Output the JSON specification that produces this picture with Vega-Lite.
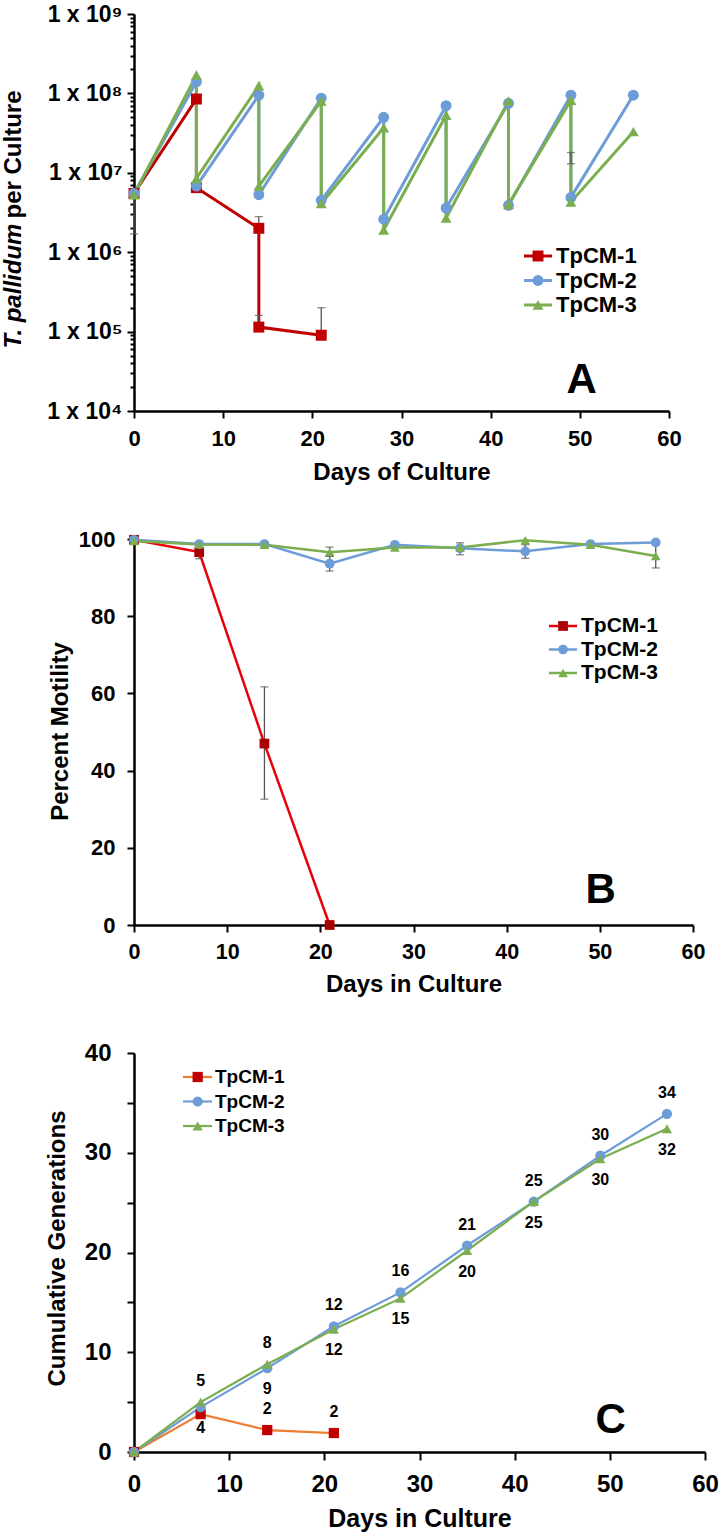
{
  "$schema": "https://vega.github.io/schema/vega-lite/v6.json",
  "padding": {"left": 1, "top": 3, "right": 5, "bottom": 5},
  "bounds": "flush",
  "spacing": 128,
  "config": {
    "view": {"stroke": null},
    "font": "Liberation Sans",
    "axis": {"domainColor": "#000", "domainWidth": 2.5, "tickColor": "#000", "tickWidth": 2, "labelColor": "#000", "labelFont": "Liberation Sans", "labelFontWeight": "bold", "titleColor": "#000", "titleFont": "Liberation Sans", "titleFontWeight": "bold", "grid": false, "labelFlush": false, "labelOverlap": false},
    "text": {"font": "Liberation Sans", "fontWeight": "bold", "color": "#000"}
  },
  "resolve": {"scale": {"stroke": "independent", "fill": "independent", "shape": "independent"}},
  "datasets": {
    "legend": [
      {"series": "TpCM-1"},
      {"series": "TpCM-2"},
      {"series": "TpCM-3"}
    ],
    "growthA": [
      {"series": "TpCM-1", "day": 0, "count": 5500000, "o": 0},
      {"series": "TpCM-1", "day": 7, "count": 85000000, "o": 1},
      {"series": "TpCM-1", "day": 7, "count": 6500000, "o": 2},
      {"series": "TpCM-1", "day": 14, "count": 2000000, "o": 3},
      {"series": "TpCM-1", "day": 14, "count": 114000, "o": 4},
      {"series": "TpCM-1", "day": 21, "count": 90000, "o": 5},
      {"series": "TpCM-2", "day": 0, "count": 5500000, "o": 0},
      {"series": "TpCM-2", "day": 7, "count": 140000000, "o": 1},
      {"series": "TpCM-2", "day": 7, "count": 6800000, "o": 2},
      {"series": "TpCM-2", "day": 14, "count": 95000000, "o": 3},
      {"series": "TpCM-2", "day": 14, "count": 5300000, "o": 4},
      {"series": "TpCM-2", "day": 21, "count": 87000000, "o": 5},
      {"series": "TpCM-2", "day": 21, "count": 4500000, "o": 6},
      {"series": "TpCM-2", "day": 28, "count": 50000000, "o": 7},
      {"series": "TpCM-2", "day": 28, "count": 2600000, "o": 8},
      {"series": "TpCM-2", "day": 35, "count": 70000000, "o": 9},
      {"series": "TpCM-2", "day": 35, "count": 3600000, "o": 10},
      {"series": "TpCM-2", "day": 42, "count": 75000000, "o": 11},
      {"series": "TpCM-2", "day": 42, "count": 3900000, "o": 12},
      {"series": "TpCM-2", "day": 49, "count": 95000000, "o": 13},
      {"series": "TpCM-2", "day": 49, "count": 4900000, "o": 14},
      {"series": "TpCM-2", "day": 56, "count": 95000000, "o": 15},
      {"series": "TpCM-3", "day": 0, "count": 5300000, "o": 0},
      {"series": "TpCM-3", "day": 7, "count": 170000000, "o": 1},
      {"series": "TpCM-3", "day": 7, "count": 8500000, "o": 2},
      {"series": "TpCM-3", "day": 14, "count": 125000000, "o": 3},
      {"series": "TpCM-3", "day": 14, "count": 6800000, "o": 4},
      {"series": "TpCM-3", "day": 21, "count": 80000000, "o": 5},
      {"series": "TpCM-3", "day": 21, "count": 4100000, "o": 6},
      {"series": "TpCM-3", "day": 28, "count": 37000000, "o": 7},
      {"series": "TpCM-3", "day": 28, "count": 1900000, "o": 8},
      {"series": "TpCM-3", "day": 35, "count": 53000000, "o": 9},
      {"series": "TpCM-3", "day": 35, "count": 2700000, "o": 10},
      {"series": "TpCM-3", "day": 42, "count": 80000000, "o": 11},
      {"series": "TpCM-3", "day": 42, "count": 4000000, "o": 12},
      {"series": "TpCM-3", "day": 49, "count": 82000000, "o": 13},
      {"series": "TpCM-3", "day": 49, "count": 4300000, "o": 14},
      {"series": "TpCM-3", "day": 56, "count": 33000000, "o": 15}
    ],
    "errA": [
      {"day": 0, "lo": 1700000, "hi": 5500000},
      {"day": 14, "lo": 2000000, "hi": 2800000},
      {"day": 14, "lo": 114000, "hi": 160000},
      {"day": 21, "lo": 90000, "hi": 200000},
      {"day": 49, "lo": 13000000, "hi": 18000000}
    ],
    "motB": [
      {"series": "TpCM-1", "day": 0, "pct": 99.8},
      {"series": "TpCM-1", "day": 7, "pct": 96.6},
      {"series": "TpCM-1", "day": 14, "pct": 47},
      {"series": "TpCM-1", "day": 21, "pct": 0},
      {"series": "TpCM-2", "day": 0, "pct": 99.8},
      {"series": "TpCM-2", "day": 7, "pct": 98.7},
      {"series": "TpCM-2", "day": 14, "pct": 98.7},
      {"series": "TpCM-2", "day": 21, "pct": 93.6},
      {"series": "TpCM-2", "day": 28, "pct": 98.5},
      {"series": "TpCM-2", "day": 35, "pct": 97.6},
      {"series": "TpCM-2", "day": 42, "pct": 96.8},
      {"series": "TpCM-2", "day": 49, "pct": 98.7},
      {"series": "TpCM-2", "day": 56, "pct": 99.1},
      {"series": "TpCM-3", "day": 0, "pct": 99.5},
      {"series": "TpCM-3", "day": 7, "pct": 98.6},
      {"series": "TpCM-3", "day": 14, "pct": 98.5},
      {"series": "TpCM-3", "day": 21, "pct": 96.6},
      {"series": "TpCM-3", "day": 28, "pct": 97.8},
      {"series": "TpCM-3", "day": 35, "pct": 97.8},
      {"series": "TpCM-3", "day": 42, "pct": 99.7},
      {"series": "TpCM-3", "day": 49, "pct": 98.5},
      {"series": "TpCM-3", "day": 56, "pct": 95.6}
    ],
    "errB": [
      {"day": 7, "lo": 94.9, "hi": 98.3},
      {"day": 14, "lo": 32.6, "hi": 61.7},
      {"day": 21, "lo": 91.7, "hi": 95.5},
      {"day": 21, "lo": 95.5, "hi": 97.9},
      {"day": 35, "lo": 95.9, "hi": 99.0},
      {"day": 42, "lo": 95.0, "hi": 98.5},
      {"day": 56, "lo": 92.5, "hi": 98.7}
    ],
    "genC": [
      {"series": "TpCM-1", "day": 0, "gen": 0},
      {"series": "TpCM-1", "day": 7, "gen": 3.8},
      {"series": "TpCM-1", "day": 14, "gen": 2.2},
      {"series": "TpCM-1", "day": 21, "gen": 1.9},
      {"series": "TpCM-2", "day": 0, "gen": 0},
      {"series": "TpCM-2", "day": 7, "gen": 4.5},
      {"series": "TpCM-2", "day": 14, "gen": 8.4},
      {"series": "TpCM-2", "day": 21, "gen": 12.6},
      {"series": "TpCM-2", "day": 28, "gen": 16.0},
      {"series": "TpCM-2", "day": 35, "gen": 20.7},
      {"series": "TpCM-2", "day": 42, "gen": 25.1},
      {"series": "TpCM-2", "day": 49, "gen": 29.7},
      {"series": "TpCM-2", "day": 56, "gen": 33.9},
      {"series": "TpCM-3", "day": 0, "gen": 0},
      {"series": "TpCM-3", "day": 7, "gen": 5.0},
      {"series": "TpCM-3", "day": 14, "gen": 8.8},
      {"series": "TpCM-3", "day": 21, "gen": 12.3},
      {"series": "TpCM-3", "day": 28, "gen": 15.4},
      {"series": "TpCM-3", "day": 35, "gen": 20.2},
      {"series": "TpCM-3", "day": 42, "gen": 25.1},
      {"series": "TpCM-3", "day": 49, "gen": 29.4},
      {"series": "TpCM-3", "day": 56, "gen": 32.4}
    ],
    "labC": [
      {"day": 7, "gen": 5.0, "text": "5", "side": "above"},
      {"day": 14, "gen": 8.8, "text": "8", "side": "above"},
      {"day": 21, "gen": 12.6, "text": "12", "side": "above"},
      {"day": 28, "gen": 16.0, "text": "16", "side": "above"},
      {"day": 35, "gen": 20.7, "text": "21", "side": "above"},
      {"day": 42, "gen": 25.1, "text": "25", "side": "above"},
      {"day": 49, "gen": 29.7, "text": "30", "side": "above"},
      {"day": 56, "gen": 33.9, "text": "34", "side": "above"},
      {"day": 14, "gen": 2.2, "text": "2", "side": "above"},
      {"day": 21, "gen": 1.9, "text": "2", "side": "above"},
      {"day": 7, "gen": 4.5, "text": "4", "side": "below"},
      {"day": 14, "gen": 8.4, "text": "9", "side": "below"},
      {"day": 21, "gen": 12.3, "text": "12", "side": "below"},
      {"day": 28, "gen": 15.4, "text": "15", "side": "below"},
      {"day": 35, "gen": 20.2, "text": "20", "side": "below"},
      {"day": 42, "gen": 25.1, "text": "25", "side": "below"},
      {"day": 49, "gen": 29.4, "text": "30", "side": "below"},
      {"day": 56, "gen": 32.4, "text": "32", "side": "below"}
    ]
  },
  "vconcat": [
    {
      "width": 535,
      "height": 397,
      "resolve": {"scale": {"y": "independent"}, "axis": {"y": "independent"}},
      "layer": [
        {
          "resolve": {"axis": {"y": "independent"}},
          "layer": [
            {
              "data": {"name": "growthA"},
              "mark": {"type": "line", "strokeWidth": 3},
              "encoding": {
                "x": {"field": "day", "type": "quantitative", "scale": {"domain": [0, 60], "nice": false},
                  "axis": {"values": [0, 10, 20, 30, 40, 50, 60], "tickSize": 7, "labelPadding": 27, "labelBaseline": "alphabetic", "labelFontSize": 22, "title": "Days of Culture", "titleFontSize": 24, "titleY": 68, "titleBaseline": "alphabetic"}},
                "y": {"field": "count", "type": "quantitative", "scale": {"type": "log", "domain": [10000, 1000000000], "nice": false},
                  "axis": {"orient": "left", "values": [10000, 100000, 1000000, 10000000, 100000000, 1000000000], "labelExpr": "'1 x 10' + ['⁰','¹','²','³','⁴','⁵','⁶','⁷','⁸','⁹'][round(log(datum.value)/LN10)]", "tickSize": 7, "labelPadding": 5, "labelFontSize": 23, "title": "per Culture", "titleFontSize": 24, "titleX": -114, "titleY": 204, "titleAlign": "left", "titleAngle": -90, "titleBaseline": "alphabetic"}},
                "stroke": {"field": "series", "type": "nominal", "scale": {"domain": ["TpCM-1", "TpCM-2", "TpCM-3"], "range": ["#C00000", "#6E9CD8", "#7BAE4F"]}, "legend": null},
                "order": {"field": "o", "type": "quantitative"}
              }
            },
            {
              "data": {"name": "errA"},
              "mark": {"type": "errorbar", "ticks": {"size": 8}, "color": "#555555", "thickness": 1.3},
              "encoding": {
                "x": {"field": "day", "type": "quantitative"},
                "y": {"field": "lo", "type": "quantitative", "axis": null},
                "y2": {"field": "hi"}
              }
            },
            {
              "data": {"name": "growthA"},
              "mark": {"type": "point", "filled": true, "opacity": 1, "size": 120},
              "encoding": {
                "x": {"field": "day", "type": "quantitative"},
                "y": {"field": "count", "type": "quantitative",
                  "axis": {"orient": "left", "values": [20000, 30000, 40000, 50000, 60000, 70000, 80000, 90000, 200000, 300000, 400000, 500000, 600000, 700000, 800000, 900000, 2000000, 3000000, 4000000, 5000000, 6000000, 7000000, 8000000, 9000000, 20000000, 30000000, 40000000, 50000000, 60000000, 70000000, 80000000, 90000000, 200000000, 300000000, 400000000, 500000000, 600000000, 700000000, 800000000, 900000000], "tickSize": 4, "labels": false, "domain": false, "title": "T. pallidum", "titleFontStyle": "italic", "titleFontSize": 24, "titleX": -114, "titleY": 334, "titleAlign": "left", "titleAngle": -90, "titleBaseline": "alphabetic"}},
                "fill": {"field": "series", "type": "nominal", "scale": {"domain": ["TpCM-1", "TpCM-2", "TpCM-3"], "range": ["#C00000", "#6E9CD8", "#7BAE4F"]}, "legend": null},
                "shape": {"field": "series", "type": "nominal", "scale": {"domain": ["TpCM-1", "TpCM-2", "TpCM-3"], "range": ["square", "circle", "triangle-up"]}, "legend": null}
              }
            },
            {
              "data": {"values": [{}]},
              "mark": {"type": "text", "fontSize": 42, "baseline": "alphabetic", "align": "center"},
              "encoding": {
                "x": {"datum": 50.2, "type": "quantitative"},
                "y": {"datum": 17000, "type": "quantitative", "axis": null},
                "text": {"value": "A"}
              }
            }
          ]
        },
        {
          "data": {"name": "legend"},
          "encoding": {
            "y": {"field": "series", "type": "ordinal", "scale": {"type": "point", "padding": 0, "domain": ["TpCM-1", "TpCM-2", "TpCM-3"], "range": [242, 291]}, "axis": null}
          },
          "layer": [
            {
              "mark": {"type": "rule", "strokeWidth": 3},
              "encoding": {
                "x": {"datum": 43.74, "type": "quantitative"},
                "x2": {"datum": 46.88},
                "stroke": {"field": "series", "type": "nominal", "legend": null}
              }
            },
            {
              "mark": {"type": "point", "filled": true, "opacity": 1, "size": 120},
              "encoding": {
                "x": {"datum": 45.31, "type": "quantitative"},
                "fill": {"field": "series", "type": "nominal", "legend": null},
                "shape": {"field": "series", "type": "nominal", "legend": null}
              }
            },
            {
              "mark": {"type": "text", "fontSize": 22, "align": "left", "baseline": "middle"},
              "encoding": {
                "x": {"datum": 47.33, "type": "quantitative"},
                "text": {"field": "series"}
              }
            }
          ]
        }
      ]
    },
    {
      "width": 559,
      "height": 386,
      "resolve": {"scale": {"y": "independent"}, "axis": {"y": "independent"}},
      "layer": [
        {
          "layer": [
            {
              "data": {"name": "motB"},
              "mark": {"type": "line", "strokeWidth": 2.5},
              "encoding": {
                "x": {"field": "day", "type": "quantitative", "scale": {"domain": [0, 60], "nice": false},
                  "axis": {"values": [0, 10, 20, 30, 40, 50, 60], "tickSize": 7, "labelPadding": 26, "labelBaseline": "alphabetic", "labelFontSize": 21.5, "title": "Days in Culture", "titleFontSize": 24, "titleY": 66, "titleBaseline": "alphabetic"}},
                "y": {"field": "pct", "type": "quantitative", "title": "Percent Motility", "scale": {"domain": [0, 100], "nice": false},
                  "axis": {"values": [0, 10, 20, 30, 40, 50, 60, 70, 80, 90, 100], "labelExpr": "datum.value % 20 === 0 ? datum.label : ''", "tickSize": 7, "labelPadding": 12, "labelFontSize": 22, "title": "Percent Motility", "titleFontSize": 24, "titleX": -67, "titleY": 192, "titleAngle": -90, "titleBaseline": "alphabetic"}},
                "stroke": {"field": "series", "type": "nominal", "scale": {"domain": ["TpCM-1", "TpCM-2", "TpCM-3"], "range": ["#E8000B", "#6E9CD8", "#7BAE4F"]}, "legend": null}
              }
            },
            {
              "data": {"name": "errB"},
              "mark": {"type": "errorbar", "ticks": {"size": 8}, "color": "#555555", "thickness": 1.3},
              "encoding": {
                "x": {"field": "day", "type": "quantitative"},
                "y": {"field": "lo", "type": "quantitative", "title": "Percent Motility"},
                "y2": {"field": "hi"}
              }
            },
            {
              "data": {"name": "motB"},
              "mark": {"type": "point", "filled": true, "opacity": 1, "size": 95},
              "encoding": {
                "x": {"field": "day", "type": "quantitative"},
                "y": {"field": "pct", "type": "quantitative", "title": "Percent Motility"},
                "fill": {"field": "series", "type": "nominal", "scale": {"domain": ["TpCM-1", "TpCM-2", "TpCM-3"], "range": ["#A80000", "#6E9CD8", "#7BAE4F"]}, "legend": null},
                "shape": {"field": "series", "type": "nominal", "scale": {"domain": ["TpCM-1", "TpCM-2", "TpCM-3"], "range": ["square", "circle", "triangle-up"]}, "legend": null}
              }
            },
            {
              "data": {"values": [{}]},
              "mark": {"type": "text", "fontSize": 42, "baseline": "alphabetic", "align": "center"},
              "encoding": {
                "x": {"datum": 50.1, "type": "quantitative"},
                "y": {"datum": 5.7, "type": "quantitative", "title": "Percent Motility"},
                "text": {"value": "B"}
              }
            }
          ]
        },
        {
          "data": {"name": "legend"},
          "encoding": {
            "y": {"field": "series", "type": "ordinal", "scale": {"type": "point", "padding": 0, "domain": ["TpCM-1", "TpCM-2", "TpCM-3"], "range": [87, 134]}, "axis": null}
          },
          "layer": [
            {
              "mark": {"type": "rule", "strokeWidth": 2.5},
              "encoding": {
                "x": {"datum": 44.54, "type": "quantitative"},
                "x2": {"datum": 47.55},
                "stroke": {"field": "series", "type": "nominal", "legend": null}
              }
            },
            {
              "mark": {"type": "point", "filled": true, "opacity": 1, "size": 95},
              "encoding": {
                "x": {"datum": 46.05, "type": "quantitative"},
                "fill": {"field": "series", "type": "nominal", "legend": null},
                "shape": {"field": "series", "type": "nominal", "legend": null}
              }
            },
            {
              "mark": {"type": "text", "fontSize": 21, "align": "left", "baseline": "middle"},
              "encoding": {
                "x": {"datum": 47.98, "type": "quantitative"},
                "text": {"field": "series"}
              }
            }
          ]
        }
      ]
    },
    {
      "width": 571,
      "height": 399,
      "resolve": {"scale": {"y": "independent"}, "axis": {"y": "independent"}},
      "layer": [
        {
          "layer": [
            {
              "data": {"name": "genC"},
              "mark": {"type": "line", "strokeWidth": 2.2},
              "encoding": {
                "x": {"field": "day", "type": "quantitative", "scale": {"domain": [0, 60], "nice": false},
                  "axis": {"values": [0, 10, 20, 30, 40, 50, 60], "tickSize": 8, "labelPadding": 31, "labelBaseline": "alphabetic", "labelFontSize": 24, "title": "Days in Culture", "titleFontSize": 25, "titleY": 74, "titleBaseline": "alphabetic"}},
                "y": {"field": "gen", "type": "quantitative", "scale": {"domain": [0, 40], "nice": false},
                  "axis": {"values": [0, 5, 10, 15, 20, 25, 30, 35, 40], "labelExpr": "datum.value % 10 === 0 ? datum.label : ''", "tickSize": 7, "labelPadding": 16, "labelFontSize": 24, "title": "Cumulative Generations", "titleFontSize": 24, "titleX": -70, "titleY": 195, "titleAngle": -90, "titleBaseline": "alphabetic"}},
                "stroke": {"field": "series", "type": "nominal", "scale": {"domain": ["TpCM-1", "TpCM-2", "TpCM-3"], "range": ["#ED7D31", "#6E9CD8", "#7BAE4F"]}, "legend": null}
              }
            },
            {
              "data": {"name": "genC"},
              "mark": {"type": "point", "filled": true, "opacity": 1, "size": 105},
              "encoding": {
                "x": {"field": "day", "type": "quantitative"},
                "y": {"field": "gen", "type": "quantitative"},
                "fill": {"field": "series", "type": "nominal", "scale": {"domain": ["TpCM-1", "TpCM-2", "TpCM-3"], "range": ["#C00000", "#6E9CD8", "#7BAE4F"]}, "legend": null},
                "shape": {"field": "series", "type": "nominal", "scale": {"domain": ["TpCM-1", "TpCM-2", "TpCM-3"], "range": ["square", "circle", "triangle-up"]}, "legend": null}
              }
            },
            {
              "data": {"name": "labC"},
              "transform": [{"filter": "datum.side === 'above'"}],
              "mark": {"type": "text", "fontSize": 16, "dy": -21, "baseline": "middle", "align": "center"},
              "encoding": {
                "x": {"field": "day", "type": "quantitative"},
                "y": {"field": "gen", "type": "quantitative"},
                "text": {"field": "text"}
              }
            },
            {
              "data": {"name": "labC"},
              "transform": [{"filter": "datum.side === 'below'"}],
              "mark": {"type": "text", "fontSize": 16, "dy": 21, "baseline": "middle", "align": "center"},
              "encoding": {
                "x": {"field": "day", "type": "quantitative"},
                "y": {"field": "gen", "type": "quantitative"},
                "text": {"field": "text"}
              }
            },
            {
              "data": {"values": [{}]},
              "mark": {"type": "text", "fontSize": 42, "baseline": "alphabetic", "align": "center"},
              "encoding": {
                "x": {"datum": 50.1, "type": "quantitative"},
                "y": {"datum": 1.9, "type": "quantitative"},
                "text": {"value": "C"}
              }
            }
          ]
        },
        {
          "data": {"name": "legend"},
          "encoding": {
            "y": {"field": "series", "type": "ordinal", "scale": {"type": "point", "padding": 0, "domain": ["TpCM-1", "TpCM-2", "TpCM-3"], "range": [24, 73]}, "axis": null}
          },
          "layer": [
            {
              "mark": {"type": "rule", "strokeWidth": 2.2},
              "encoding": {
                "x": {"datum": 5.15, "type": "quantitative"},
                "x2": {"datum": 8.2},
                "stroke": {"field": "series", "type": "nominal", "legend": null}
              }
            },
            {
              "mark": {"type": "point", "filled": true, "opacity": 1, "size": 105},
              "encoding": {
                "x": {"datum": 6.69, "type": "quantitative"},
                "fill": {"field": "series", "type": "nominal", "legend": null},
                "shape": {"field": "series", "type": "nominal", "legend": null}
              }
            },
            {
              "mark": {"type": "text", "fontSize": 19, "align": "left", "baseline": "middle"},
              "encoding": {
                "x": {"datum": 8.51, "type": "quantitative"},
                "text": {"field": "series"}
              }
            }
          ]
        }
      ]
    }
  ]
}
